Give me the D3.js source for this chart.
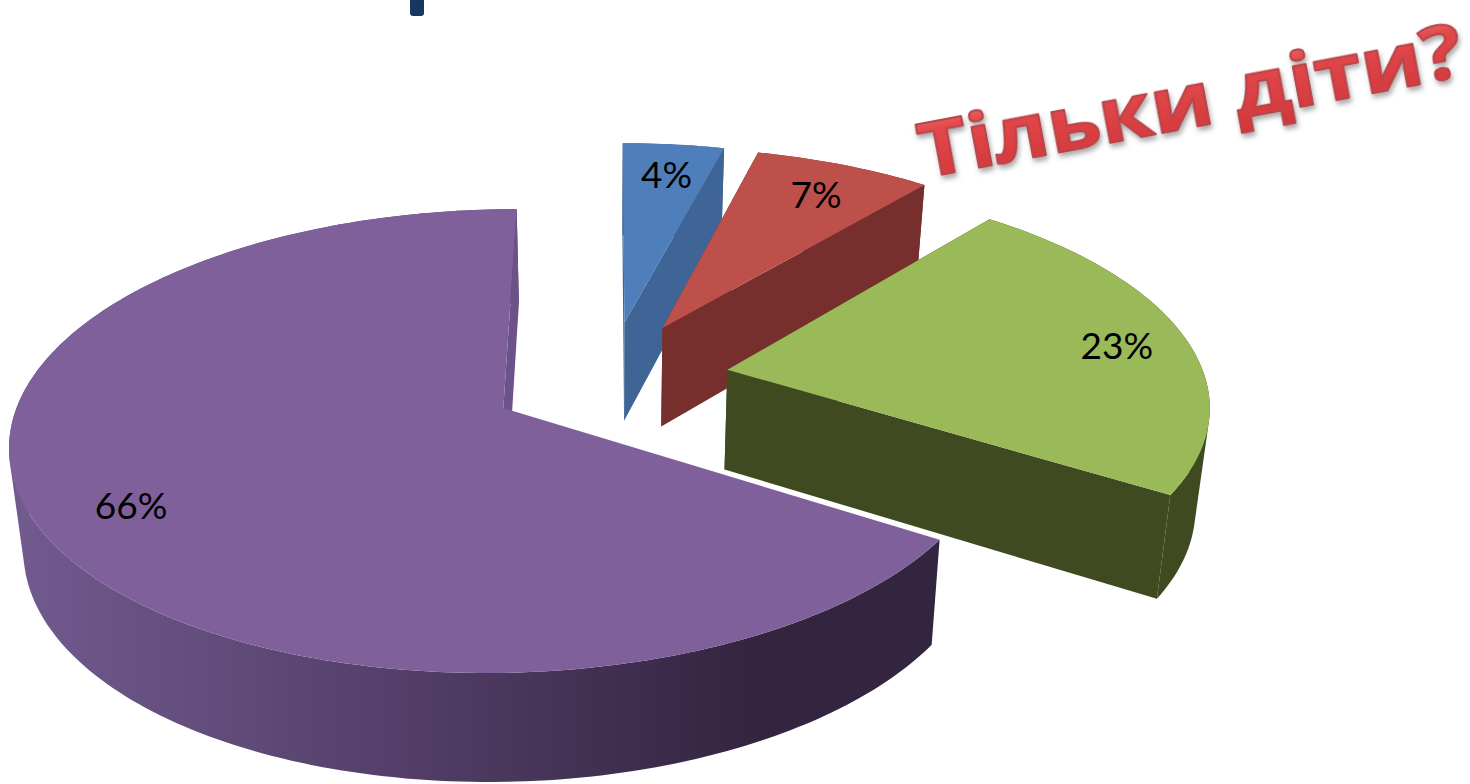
<!DOCTYPE html>
<html>
<head>
<meta charset="utf-8">
<script src="https://cdn.jsdelivr.net/npm/d3@7"></script>
<style>
  html, body { margin: 0; padding: 0; background: #fff; overflow: hidden; }
  svg { display: block; }
</style>
</head>
<body>
<div id="chart"></div>
<script>
// slice data, clockwise from 12 o'clock
const categories = ['a', 'b', 'c', 'd'];
const values = [4, 7, 23, 66];
const topColors = ['#4f7fbb', '#be504c', '#9ab958', '#7f609b'];
const wallColors = ['#3f6596', '#772f2e', '#3f4a21', 'url(#purpleWall)'];
const callout = 'Тільки діти?';

const width = 1470, height = 784;
const cx = 610, cy = 379;      // vanishing point of the tilted pie
const rx = 478, ry = 219;
const explodeX = 0.25, explodeY = 0.27;
const persp = 0.14;
const depth = 100, depthShrink = 0.976;
const labelRadii = [0.84, 0.83, 0.85, 0.81];

const svg = d3.select('#chart').append('svg')
    .attr('width', width)
    .attr('height', height);

const defs = svg.append('defs');

const wallGrad = defs.append('linearGradient')
    .attr('id', 'purpleWall')
    .attr('gradientUnits', 'userSpaceOnUse')
    .attr('x1', 20).attr('x2', 760).attr('y1', 0).attr('y2', 0);
wallGrad.append('stop').attr('offset', 0).attr('stop-color', '#715a8e');
wallGrad.append('stop').attr('offset', 0.51).attr('stop-color', '#533f69');
wallGrad.append('stop').attr('offset', 1).attr('stop-color', '#33243f');

const textGrad = defs.append('linearGradient')
    .attr('id', 'calloutFill')
    .attr('x1', 0).attr('x2', 0).attr('y1', 0).attr('y2', 1);
textGrad.append('stop').attr('offset', 0).attr('stop-color', '#f08a88');
textGrad.append('stop').attr('offset', 0.35).attr('stop-color', '#e2474a');
textGrad.append('stop').attr('offset', 1).attr('stop-color', '#cf3539');

const shadow = defs.append('filter')
    .attr('id', 'calloutShadow')
    .attr('x', '-10%').attr('y', '-30%').attr('width', '120%').attr('height', '160%');
shadow.append('feDropShadow')
    .attr('dx', 1).attr('dy', 4).attr('stdDeviation', 2.5)
    .attr('flood-color', '#555').attr('flood-opacity', 0.5);

// cut-off bit of the slide title at the top edge
svg.append('rect')
    .attr('x', 410).attr('y', -6)
    .attr('width', 14).attr('height', 22)
    .attr('rx', 3)
    .attr('fill', '#17375e');

const pie = d3.pie().sort(null).value(d => d);
const arcs = pie(values);

// plane coordinates (unit radius) -> screen; z = 0 top face, z = 1 bottom face
function project(X, Y, z) {
  const s = 1 / (1 - persp * Y);
  let x = rx * X * s;
  let y = cy + ry * Y * s;
  if (z) {
    x = x * depthShrink;
    y = y + depth * Math.sqrt(s);
  }
  return [cx + x, y];
}

function slicePoint(d, r, angle, z) {
  const mid = (d.startAngle + d.endAngle) / 2;
  const X = explodeX * Math.sin(mid) + r * Math.sin(angle);
  const Y = -explodeY * Math.cos(mid) - r * Math.cos(angle);
  return project(X, Y, z);
}

function rim(d, z) {
  const n = Math.ceil((d.endAngle - d.startAngle) / 0.02);
  return d3.range(n + 1).map(i => {
    const a = d.startAngle + (d.endAngle - d.startAngle) * i / n;
    return slicePoint(d, 1, a, z);
  });
}

const line = d3.line();

// outer wall: one path of small quads, all wound the same way so nothing cancels
function wallPath(rimTop, rimBottom) {
  return d3.range(rimTop.length - 1).map(k => {
    const quad = [rimTop[k], rimTop[k + 1], rimBottom[k + 1], rimBottom[k]];
    if (d3.polygonArea(quad) < 0) quad.reverse();
    return line(quad) + 'Z';
  }).join('');
}

// purple sits behind everything, then blue, red, green
const order = [3, 0, 1, 2];
const g = svg.append('g');

order.forEach(i => {
  const d = arcs[i];
  const slice = g.append('g').attr('class', 'slice-' + categories[i]);
  const apexTop = slicePoint(d, 0, 0, 0);
  const apexBottom = slicePoint(d, 0, 0, 1);
  const rimTop = rim(d, 0);
  const rimBottom = rim(d, 1);

  slice.append('path')
      .attr('d', wallPath(rimTop, rimBottom))
      .attr('fill', wallColors[i]);

  // the big slice only shows its back cut, as a thin lighter sliver
  const cuts = i === 3 ? [d.endAngle] : [d.startAngle, d.endAngle];
  cuts.forEach(a => {
    slice.append('path')
        .attr('d', line([apexTop, slicePoint(d, 1, a, 0), slicePoint(d, 1, a, 1), apexBottom]) + 'Z')
        .attr('fill', i === 3 ? '#6b5288' : wallColors[i]);
  });

  slice.append('path')
      .attr('d', line([apexTop].concat(rimTop)) + 'Z')
      .attr('fill', topColors[i]);
});

// percent labels
svg.append('g').selectAll('text')
    .data(arcs)
    .enter().append('text')
    .attr('transform', (d, i) => {
      const mid = (d.startAngle + d.endAngle) / 2;
      return 'translate(' + slicePoint(d, labelRadii[i], mid, 0) + ')';
    })
    .attr('dy', 3)
    .attr('text-anchor', 'middle')
    .attr('dominant-baseline', 'central')
    .attr('font-family', 'Lato, "Open Sans", sans-serif')
    .attr('font-size', 37)
    .attr('fill', '#000')
    .text(d => d.data + '%');

// WordArt style callout
svg.append('text')
    .attr('transform', 'translate(924,178) rotate(-10.7)')
    .attr('font-family', '"Open Sans", "DejaVu Sans", sans-serif')
    .attr('font-weight', 700)
    .attr('font-size', 76)
    .attr('textLength', 552)
    .attr('lengthAdjust', 'spacingAndGlyphs')
    .attr('fill', 'url(#calloutFill)')
    .attr('stroke', '#b8454a')
    .attr('stroke-width', 2)
    .attr('stroke-linejoin', 'round')
    .attr('filter', 'url(#calloutShadow)')
    .text(callout);
</script>
</body>
</html>
